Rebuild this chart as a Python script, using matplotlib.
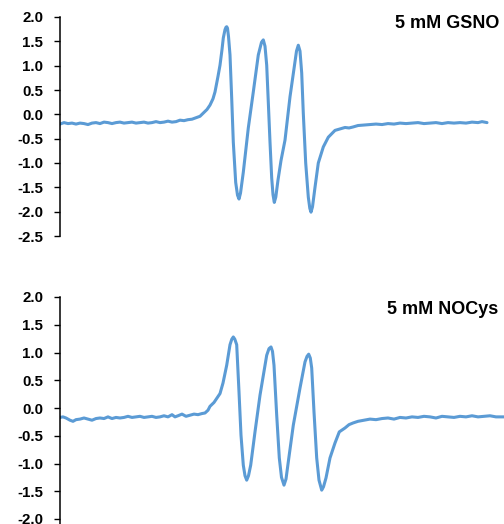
import matplotlib
matplotlib.use("Agg")
import matplotlib.pyplot as plt

# EPR spectra, field axis in arbitrary points, intensity in a.u.
gsno_field = [0, 4, 8, 12, 16, 20, 24, 28, 32, 36, 40, 44, 48, 52, 56, 60, 64, 68, 72, 76,
              80, 84, 88, 92, 96, 100, 104, 108, 112, 116, 120, 124, 128, 132, 136, 140,
              143, 147, 150, 153, 155, 158, 160, 162, 163.3, 165, 166, 166.7, 167.5, 168.5,
              170, 171.7, 173.3, 175.7, 177.5, 179, 180.5, 183.3, 188.3, 193.3, 198.3,
              201.5, 203.3, 205, 206.7, 208.3, 210, 211.7, 213, 214.3, 215.8, 218, 221,
              225, 230, 234.3, 236.5, 238.3, 240, 241.7, 243.3, 245.7, 248.3, 249.8, 251,
              252.5, 255, 258.3, 263.3, 268.3, 275, 280, 285, 289, 293, 298, 304, 310, 316,
              322, 328, 334, 340, 346, 352, 358, 364, 370, 376, 382, 388, 394, 400, 406,
              412, 418, 422, 427]
gsno_signal = [-0.20, -0.17, -0.19, -0.18, -0.20, -0.18, -0.19, -0.21, -0.18, -0.17, -0.19,
               -0.16, -0.17, -0.19, -0.17, -0.16, -0.18, -0.17, -0.16, -0.18, -0.17, -0.16,
               -0.18, -0.17, -0.15, -0.17, -0.16, -0.14, -0.16, -0.15, -0.12, -0.13, -0.11,
               -0.10, -0.07, -0.04, 0.02, 0.10, 0.19, 0.32, 0.46, 0.78, 1.01, 1.33, 1.57,
               1.74, 1.79, 1.80, 1.77, 1.60, 1.22, 0.33, -0.57, -1.40, -1.66, -1.74, -1.62,
               -1.19, -0.28, 0.46, 1.22, 1.48, 1.53, 1.40, 1.01, 0.25, -0.57, -1.31, -1.65,
               -1.81, -1.70, -1.35, -0.95, -0.53, 0.36, 0.98, 1.30, 1.42, 1.30, 0.85, 0.02,
               -1.00, -1.70, -1.93, -2.01, -1.90, -1.50, -1.00, -0.67, -0.47, -0.33, -0.30,
               -0.27, -0.28, -0.26, -0.23, -0.22, -0.21, -0.20, -0.21, -0.19, -0.20, -0.18,
               -0.19, -0.18, -0.17, -0.19, -0.18, -0.17, -0.19, -0.17, -0.18, -0.17, -0.18,
               -0.16, -0.17, -0.15, -0.17]

nocys_field = [0, 3, 6, 10, 13, 16, 20, 24, 28, 32, 36, 40, 44, 48, 52, 56, 60, 64, 68, 72,
               76, 80, 84, 88, 92, 96, 100, 104, 108, 112, 115, 118, 122, 126, 130, 134,
               138, 142, 145, 148, 150, 154, 157, 160, 163, 166.7, 170, 171.8, 173.3, 174.8,
               176.7, 179, 181, 183.3, 185, 186.7, 188.5, 190.7, 195, 200, 206.7, 209, 211,
               212.5, 214, 216.7, 219.3, 221.5, 224, 226, 228.3, 233.3, 240, 245, 247, 248.7,
               250.3, 251.7, 254, 256.7, 259, 261.7, 263.5, 266, 270, 275, 279.3, 285, 289,
               293, 298, 304, 310, 316, 322, 328, 334, 340, 346, 352, 358, 364, 370, 376,
               382, 388, 394, 400, 406, 412, 418, 424, 430, 436, 444]
nocys_signal = [-0.17, -0.16, -0.18, -0.22, -0.24, -0.21, -0.20, -0.18, -0.20, -0.22, -0.19,
                -0.18, -0.19, -0.16, -0.19, -0.17, -0.18, -0.17, -0.15, -0.17, -0.16, -0.15,
                -0.17, -0.16, -0.15, -0.17, -0.16, -0.14, -0.16, -0.12, -0.16, -0.14, -0.11,
                -0.15, -0.13, -0.11, -0.12, -0.10, -0.09, -0.04, 0.03, 0.10, 0.18, 0.26,
                0.45, 0.77, 1.14, 1.24, 1.28, 1.24, 1.14, 0.29, -0.49, -1.03, -1.22, -1.30,
                -1.22, -1.03, -0.43, 0.23, 0.95, 1.07, 1.10, 1.02, 0.77, -0.13, -0.90, -1.25,
                -1.39, -1.28, -0.97, -0.31, 0.36, 0.83, 0.93, 0.97, 0.90, 0.72, -0.07, -0.90,
                -1.30, -1.48, -1.42, -1.26, -0.90, -0.63, -0.43, -0.36, -0.30, -0.27, -0.24,
                -0.22, -0.20, -0.21, -0.19, -0.18, -0.20, -0.17, -0.18, -0.16, -0.17, -0.15,
                -0.16, -0.18, -0.15, -0.16, -0.17, -0.15, -0.16, -0.14, -0.16, -0.15, -0.14,
                -0.16, -0.16]

y_ticks = [2.0, 1.5, 1.0, 0.5, 0.0, -0.5, -1.0, -1.5, -2.0, -2.5]
line_color = "#5B9BD5"

plt.rcParams["font.family"] = ["Liberation Sans", "DejaVu Sans"]
plt.rcParams["font.weight"] = "bold"

fig = plt.figure(figsize=(5.04, 5.24), dpi=100)
W, H = 504, 524


def make_axes(left, top_px, bottom_px, right_px):
    return fig.add_axes([left / W, 1 - bottom_px / H,
                         (right_px - left) / W, (bottom_px - top_px) / H])


ax_top = make_axes(60, 17, 236, 504)
ax_bot = make_axes(60, 297, 546.75, 504)

for ax, field, signal in [(ax_top, gsno_field, gsno_signal),
                          (ax_bot, nocys_field, nocys_signal)]:
    ax.plot(field, signal, color=line_color, lw=2.2,
            solid_joinstyle="round", solid_capstyle="round")
    ax.set_xlim(0, 444)
    ax.set_ylim(-2.5, 2.0)
    ax.set_yticks(y_ticks)
    ax.set_yticklabels([f"{t:.1f}" for t in y_ticks], fontsize=10.8, fontweight="bold")
    ax.tick_params(axis="y", direction="out", length=4.5, width=1.0, pad=7.5)
    ax.set_xticks([])
    for side in ["top", "right", "bottom"]:
        ax.spines[side].set_visible(False)
    ax.spines["left"].set_linewidth(1.1)
    ax.spines["left"].set_color("black")
    ax.patch.set_alpha(0)

fig.text(499 / W, 1 - 23 / H, "5 mM GSNO", ha="right", va="center",
         fontsize=13, fontweight="bold")
fig.text(498 / W, 1 - 310 / H, "5 mM NOCys", ha="right", va="center",
         fontsize=13, fontweight="bold")

fig.savefig("out.png", dpi=100)
